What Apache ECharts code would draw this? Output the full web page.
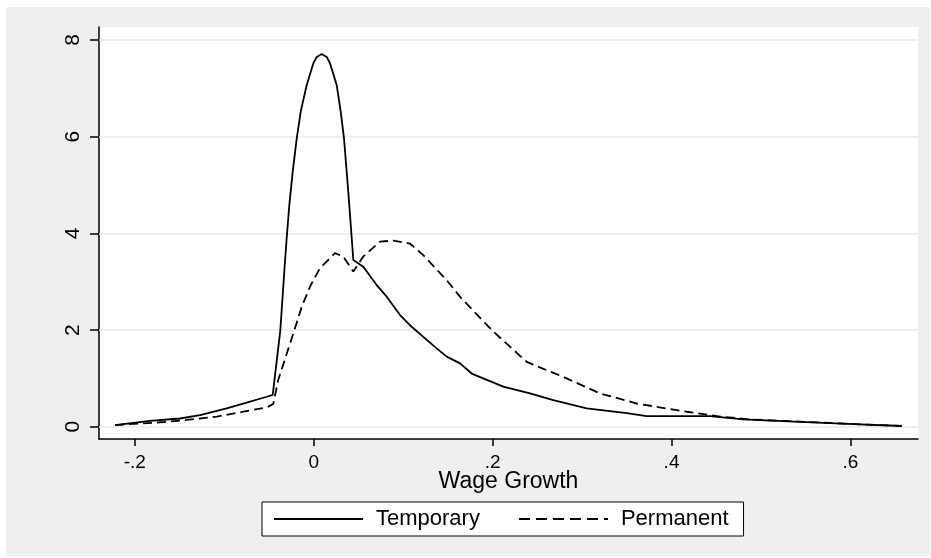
<!DOCTYPE html>
<html>
<head>
<meta charset="utf-8">
<script src="https://cdn.jsdelivr.net/npm/echarts@6/dist/echarts.min.js"></script>
<style>
  html, body { margin: 0; padding: 0; background: #fff; }
  #chart { width: 931px; height: 558px; }
</style>
</head>
<body>
<div id="chart"></div>
<script>
// kernel density, temporary contracts
var tempX = [-0.222, -0.183, -0.1495, -0.127, -0.0973, -0.0749, -0.0525, -0.0458, -0.0373, -0.0324, -0.0302,
  -0.0273, -0.0235, -0.019, -0.0145, -0.0078, -0.0004, 0.0034, 0.0089, 0.0145, 0.0182, 0.0257, 0.0302,
  0.0339, 0.0369, 0.0398, 0.0425, 0.0443,
  0.0554, 0.0704, 0.0816, 0.0965, 0.1076, 0.1225, 0.1375, 0.1487, 0.1635, 0.1766, 0.2119, 0.2418,
  0.2678, 0.3052, 0.3499, 0.3722, 0.443, 0.480, 0.5436, 0.6032, 0.6573]
var tempY = [0.035, 0.12, 0.17, 0.24, 0.38, 0.50, 0.62, 0.66, 2.0, 3.34, 3.90,
  4.58, 5.27, 5.96, 6.52, 7.07, 7.52, 7.65, 7.71, 7.65, 7.52, 7.07, 6.52,
  5.96, 5.27, 4.58, 3.90, 3.45,
  3.31, 2.93, 2.69, 2.31, 2.10, 1.86, 1.62, 1.45, 1.31, 1.10, 0.83, 0.69,
  0.55, 0.38, 0.28, 0.22, 0.22, 0.15, 0.10, 0.055, 0.015]

// kernel density, permanent contracts
var permX = [-0.222, -0.1643, -0.142, -0.1084, -0.0787, -0.0525, -0.0452, -0.0396, -0.0228, -0.0134,
  -0.0041, 0.0070, 0.0238, 0.0331, 0.0443, 0.0554, 0.0741, 0.0890, 0.1076, 0.1225, 0.1487, 0.1635,
  0.1990, 0.2381, 0.2790, 0.3200, 0.3611, 0.4170, 0.4542, 0.4877, 0.5511, 0.6107, 0.6573]
var permY = [0.035, 0.10, 0.14, 0.21, 0.31, 0.40, 0.47, 0.97, 1.93, 2.48,
  2.90, 3.28, 3.59, 3.52, 3.21, 3.52, 3.83, 3.85, 3.79, 3.55, 3.03, 2.69,
  2.0, 1.34, 1.03, 0.69, 0.48, 0.31, 0.21, 0.15, 0.10, 0.05, 0.015]

var xTicks = [-0.2, 0, 0.2, 0.4, 0.6]
var xTickLabels = ['-.2', '0', '.2', '.4', '.6']
var yTicks = [0, 2, 4, 6, 8]
var yTickLabels = ['0', '2', '4', '6', '8']

var seriesNames = ['Temporary', 'Permanent']

function pairs(xs, ys) {
  return xs.map(function (x, i) { return [x, ys[i]] })
}
function tickLabel(ticks, labels) {
  return function (v) {
    for (var i = 0; i < ticks.length; i++) {
      if (Math.abs(v - ticks[i]) < 1e-9) return labels[i]
    }
    return ''
  }
}

var font = 'Liberation Sans, Arial, sans-serif'
var myChart = echarts.init(document.getElementById('chart'))
var option = {
  backgroundColor: '#fff',
  animation: false,
  textStyle: { fontFamily: font, color: '#000' },
  graphic: [{
    type: 'rect',
    z: -10,
    shape: { x: 6, y: 7, width: 924, height: 549 },
    style: { fill: '#efefef' }
  }],
  grid: {
    left: 99, right: 13, top: 27, bottom: 119,
    show: true, backgroundColor: '#fff', borderWidth: 0
  },
  xAxis: {
    type: 'value',
    min: -0.240,
    max: 0.6755,
    name: 'Wage Growth',
    nameLocation: 'middle',
    nameGap: 31,
    nameMoveOverlap: false,
    nameTextStyle: { fontSize: 23, color: '#000', fontFamily: font },
    axisLine: { onZero: false, lineStyle: { color: '#000', width: 1.5 } },
    axisTick: { customValues: xTicks, length: 7, lineStyle: { color: '#000', width: 1.5 } },
    axisLabel: {
      customValues: xTicks, margin: 14, fontSize: 19, color: '#000', fontFamily: font,
      formatter: tickLabel(xTicks, xTickLabels)
    },
    splitLine: { show: false }
  },
  yAxis: {
    type: 'value',
    min: -0.254,
    max: 8.269,
    axisLine: { show: true, onZero: false, lineStyle: { color: '#000', width: 1.5 } },
    axisTick: { show: true, customValues: yTicks, length: 9, lineStyle: { color: '#000', width: 1.5 } },
    axisLabel: {
      customValues: yTicks, rotate: 90, margin: 15, fontSize: 21, color: '#000', fontFamily: font,
      formatter: tickLabel(yTicks, yTickLabels)
    },
    splitLine: { show: false }
  },
  legend: {
    data: [
      { name: seriesNames[0] },
      { name: seriesNames[1], lineStyle: { type: [11, 6] } }
    ],
    left: 262,
    top: 502,
    orient: 'horizontal',
    itemWidth: 89,
    itemHeight: 14,
    itemGap: 38,
    padding: [6, 15, 6, 11],
    backgroundColor: '#fff',
    borderColor: '#000',
    borderWidth: 1,
    borderRadius: 0,
    itemStyle: { opacity: 0 },
    textStyle: { fontSize: 22, color: '#000', fontFamily: font, width: 112, padding: [0, 0, 0, 8] }
  },
  series: [{
    name: seriesNames[0],
    type: 'line',
    symbol: 'none',
    data: pairs(tempX, tempY),
    lineStyle: { color: '#000', width: 1.8, type: 'solid' },
    itemStyle: { color: '#000' },
    markLine: {
      silent: true,
      z: 1,
      symbol: 'none',
      label: { show: false },
      lineStyle: { color: '#e8e8e8', width: 1.5, type: 'solid' },
      data: yTicks.map(function (v) { return { yAxis: v } })
    }
  }, {
    name: seriesNames[1],
    type: 'line',
    symbol: 'none',
    data: pairs(permX, permY),
    lineStyle: { color: '#000', width: 1.8, type: [9, 5] },
    itemStyle: { color: '#000' }
  }]
}
myChart.setOption(option)
</script>
</body>
</html>
